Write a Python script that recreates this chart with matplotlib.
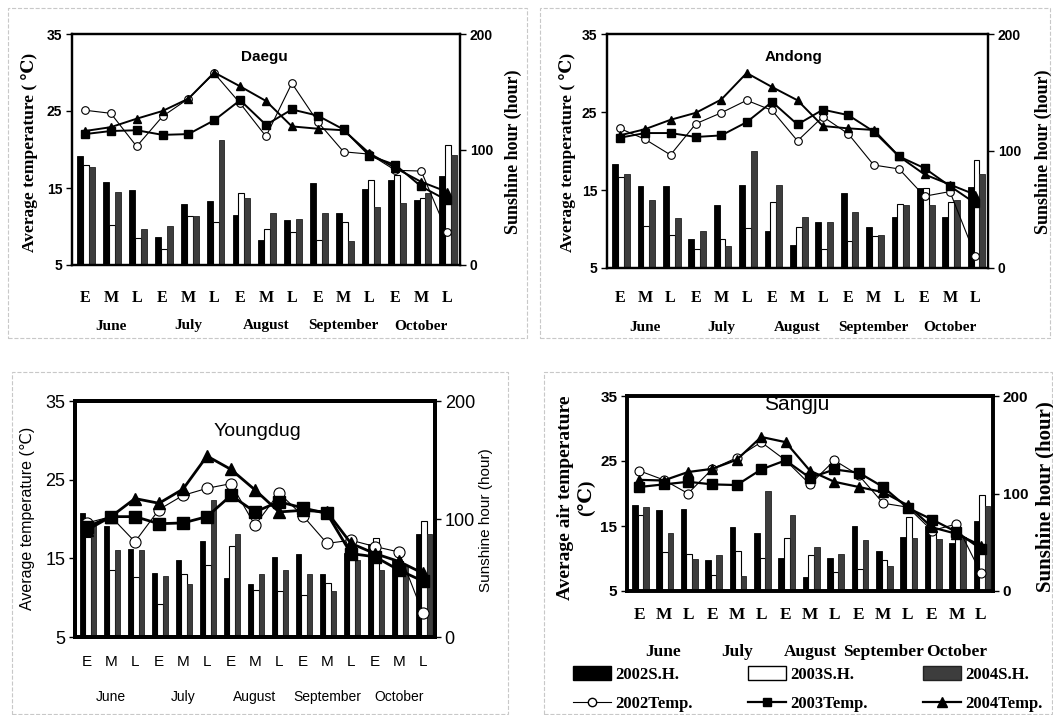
import numpy as np
import matplotlib
matplotlib.use('Agg')
import matplotlib.pyplot as plt
from matplotlib.patches import Patch, Rectangle
from matplotlib.lines import Line2D

W, H = 1053, 715

periods = ['E', 'M', 'L'] * 5
months = ['June', 'July', 'August', 'September', 'October']

# ---- Daegu ----
daegu_t02 = [25.1, 24.7, 20.4, 24.3, 26.6, 29.9, 26.0, 21.7, 28.6, 23.6, 19.7, 19.4, 17.3, 17.2, 9.3]
daegu_t03 = [22.0, 22.4, 22.5, 21.9, 22.0, 23.8, 26.4, 23.2, 25.2, 24.4, 22.6, 19.2, 18.0, 15.2, 13.4]
daegu_t04 = [22.4, 22.9, 24.0, 25.0, 26.6, 30.0, 28.2, 26.3, 23.0, 22.7, 22.5, 19.5, 17.6, 15.8, 14.5]
daegu_s02 = [94, 72, 65, 24, 53, 55, 43, 22, 39, 71, 45, 66, 74, 56, 77]
daegu_s03 = [87, 35, 23, 14, 42, 37, 62, 31, 29, 22, 37, 74, 78, 58, 104]
daegu_s04 = [85, 63, 31, 34, 42, 108, 58, 45, 40, 45, 21, 50, 54, 62, 95]

# ---- Andong ----
andong_t02 = [22.9, 21.5, 19.5, 23.5, 24.9, 26.5, 25.2, 21.3, 24.4, 22.2, 18.2, 17.7, 14.2, 14.8, 6.6]
andong_t03 = [21.7, 22.3, 22.3, 21.8, 22.0, 23.7, 26.3, 23.4, 25.3, 24.6, 22.5, 19.3, 17.8, 15.5, 13.3]
andong_t04 = [22.0, 22.8, 24.0, 24.9, 26.6, 30.0, 28.2, 26.5, 23.2, 22.9, 22.7, 19.3, 17.0, 15.7, 14.4]
andong_s02 = [89, 70, 70, 25, 54, 71, 32, 20, 39, 64, 35, 44, 68, 44, 69]
andong_s03 = [78, 36, 28, 16, 25, 34, 56, 35, 16, 23, 27, 55, 68, 56, 92]
andong_s04 = [80, 58, 43, 32, 19, 100, 71, 44, 39, 48, 28, 54, 54, 58, 80]

# ---- Youngdug ----
young_t02 = [19.5, 20.3, 17.1, 21.2, 23.0, 23.9, 24.5, 19.2, 23.3, 20.4, 16.9, 17.3, 16.5, 15.8, 8.0]
young_t03 = [19.0, 20.3, 20.3, 19.4, 19.5, 20.3, 23.0, 20.9, 22.2, 21.4, 20.7, 15.6, 15.2, 13.5, 12.1]
young_t04 = [18.6, 20.3, 22.6, 22.0, 23.8, 28.0, 26.3, 23.7, 20.9, 21.1, 20.9, 16.9, 15.6, 14.6, 13.1]
young_s02 = [105, 94, 75, 54, 65, 81, 50, 45, 68, 70, 53, 71, 79, 65, 87]
young_s03 = [85, 57, 51, 28, 53, 61, 77, 40, 39, 36, 46, 67, 84, 64, 98]
young_s04 = [96, 74, 74, 52, 45, 116, 87, 53, 57, 53, 39, 65, 57, 60, 87]

# ---- Sangju ----
sang_t02 = [23.5, 22.1, 20.0, 23.8, 25.5, 27.9, 25.1, 21.4, 25.1, 22.8, 18.5, 17.9, 14.3, 15.3, 7.8]
sang_t03 = [21.0, 21.4, 21.8, 21.4, 21.3, 23.7, 25.1, 22.4, 23.7, 23.2, 21.0, 17.8, 16.0, 14.1, 11.5]
sang_t04 = [22.1, 22.0, 23.3, 23.8, 25.2, 28.7, 27.9, 23.5, 21.8, 21.0, 20.2, 18.2, 14.8, 13.8, 12.0]
sang_s02 = [88, 83, 84, 32, 66, 60, 34, 14, 34, 67, 41, 55, 67, 49, 72]
sang_s03 = [78, 40, 38, 16, 41, 34, 54, 37, 20, 23, 32, 76, 62, 55, 98]
sang_s04 = [86, 59, 33, 37, 15, 103, 78, 45, 38, 52, 26, 54, 53, 55, 87]

SERIF = ['Liberation Serif', 'DejaVu Serif']
SANS = ['Liberation Sans', 'DejaVu Sans']
NARROW = ['Liberation Sans Narrow', 'Liberation Sans', 'DejaVu Sans']

fig = plt.figure(figsize=(W / 100, H / 100), dpi=100)


def rect_px(left, top, right, bottom):
    return [left / W, 1 - bottom / H, (right - left) / W, (bottom - top) / H]


def panel(box, title, t02, t03, t04, s02, s03, s04, st):
    ax = fig.add_axes(rect_px(*box))
    ax2 = ax.twinx()
    ax.set_zorder(ax2.get_zorder() + 1)
    ax.patch.set_visible(False)
    x = np.arange(15)
    w = 0.23
    ax2.bar(x - 0.18, s02, w, color='black', edgecolor='black', lw=0.6)
    ax2.bar(x + 0.05, s03, w, color='white', edgecolor='black', lw=0.8)
    ax2.bar(x + 0.28, s04, w, color='#3d3d3d', edgecolor='#222222', lw=0.6)
    ax2.set_ylim(0, 200)
    ax2.set_yticks([0, 100, 200])
    ax.set_ylim(5, 35)
    ax.set_yticks([5, 15, 25, 35])
    ax.set_xlim(-0.5, 14.5)

    ms = st['ms']
    ax.plot(x, t02, '-o', color='black', lw=0.8, mfc='white', mec='black', ms=ms, mew=0.8)
    ax.plot(x, t03, '-s', color='black', lw=st['lw'], ms=ms, mfc='black')
    ax.plot(x, t04, '-^', color='black', lw=st['lw'], ms=ms + 0.5, mfc='black')

    for a in (ax, ax2):
        for s in a.spines.values():
            s.set_linewidth(st['spine'])
    ax.tick_params(axis='x', length=0, labelbottom=False)
    ax.tick_params(axis='y', direction='out', length=4, width=1, pad=3)
    ax2.tick_params(axis='y', direction='out', length=4, width=1, pad=3)
    for lab in ax.get_yticklabels() + ax2.get_yticklabels():
        lab.set_fontfamily(st['tickfont'])
        lab.set_fontsize(st['ticksize'])
        lab.set_fontweight(st['tickweight'])

    for i, p in enumerate(periods):
        ax.annotate(p, (i, 0), xycoords=('data', 'axes fraction'),
                    xytext=(0, -st['eml_off'] * 0.72), textcoords='offset points',
                    ha='center', va='center', family=st['emlfont'],
                    fontsize=st['emlsize'], fontweight=st['emlweight'])
    for j, m in enumerate(months):
        ax.annotate(m, (3 * j + 1, 0), xycoords=('data', 'axes fraction'),
                    xytext=(0, -st['mon_off'] * 0.72), textcoords='offset points',
                    ha='center', va='center', family=st['monfont'],
                    fontsize=st['monsize'], fontweight=st['monweight'])
    ax.text(st['title_xy'][0], st['title_xy'][1], title, transform=ax.transAxes,
            ha='center', va='center', family=st['titlefont'],
            fontsize=st['titlesize'], fontweight=st['titleweight'], zorder=10)
    return ax


top_style = dict(ms=5.5, lw=1.4, spine=1.6,
                 tickfont=SANS, ticksize=10, tickweight='bold',
                 emlfont=SERIF, emlsize=11.5, emlweight='bold', eml_off=33,
                 monfont=SERIF, monsize=11, monweight='bold', mon_off=61,
                 titlefont=SANS, titlesize=11, titleweight='bold',
                 title_xy=(0.497, 0.90))

panel((72, 34, 460, 265), 'Daegu', daegu_t02, daegu_t03, daegu_t04,
      daegu_s02, daegu_s03, daegu_s04, top_style)

andong_style = dict(top_style, eml_off=30, mon_off=60, title_xy=(0.49, 0.90))
panel((607, 34, 988, 268), 'Andong', andong_t02, andong_t03, andong_t04,
      andong_s02, andong_s03, andong_s04, andong_style)

young_style = dict(ms=8, lw=2.0, spine=2.8,
                   tickfont=NARROW, ticksize=13, tickweight='normal',
                   emlfont=SANS, emlsize=11, emlweight='normal', eml_off=25,
                   monfont=NARROW, monsize=10, monweight='normal', mon_off=60,
                   titlefont=NARROW, titlesize=14, titleweight='normal',
                   title_xy=(0.508, 0.87))
panel((75, 401, 435, 637), 'Youngdug', young_t02, young_t03, young_t04,
      young_s02, young_s03, young_s04, young_style)

sang_style = dict(ms=6.5, lw=1.6, spine=2.6,
                  tickfont=SANS, ticksize=11, tickweight='bold',
                  emlfont=SERIF, emlsize=12.5, emlweight='bold', eml_off=24,
                  monfont=SERIF, monsize=12.5, monweight='bold', mon_off=61,
                  titlefont=NARROW, titlesize=15, titleweight='normal',
                  title_xy=(0.464, 0.955))
panel((627, 396, 993, 591), 'Sangju', sang_t02, sang_t03, sang_t04,
      sang_s02, sang_s03, sang_s04, sang_style)


def ftext(px, py, s, **kw):
    fig.text(px / W, 1 - py / H, s, **kw)


# axis titles
ftext(30, 152, 'Average temperature ( \u2103)', rotation=90, ha='center', va='center',
      family=SERIF, fontsize=12.5, fontweight='bold')
ftext(513, 152, 'Sunshine hour (hour)', rotation=90, ha='center', va='center',
      family=SERIF, fontsize=13, fontweight='bold')
ftext(568, 152, 'Average temperature ( \u2103)', rotation=90, ha='center', va='center',
      family=SERIF, fontsize=12.5, fontweight='bold')
ftext(1043, 152, 'Sunshine hour (hour)', rotation=90, ha='center', va='center',
      family=SERIF, fontsize=13, fontweight='bold')
ftext(28, 518, 'Average temperature (\u2103)', rotation=90, ha='center', va='center',
      family=SANS, fontsize=11.5)
ftext(486, 520, 'Sunshine hour (hour)', rotation=90, ha='center', va='center',
      family=SANS, fontsize=11)
ftext(565, 498, 'Average air temperature', rotation=90, ha='center', va='center',
      family=SERIF, fontsize=14, fontweight='bold')
ftext(586, 498, '(\u2103)', rotation=90, ha='center', va='center',
      family=SERIF, fontsize=14, fontweight='bold')
ftext(1045, 497, 'Sunshine hour (hour)', rotation=90, ha='center', va='center',
      family=SERIF, fontsize=15, fontweight='bold')

# legend
handles = [
    Patch(facecolor='black', edgecolor='black'),
    Line2D([], [], color='black', lw=0.8, marker='o', mfc='white', ms=6),
    Patch(facecolor='white', edgecolor='black'),
    Line2D([], [], color='black', lw=1.6, marker='s', ms=6),
    Patch(facecolor='#3d3d3d', edgecolor='#222222'),
    Line2D([], [], color='black', lw=1.6, marker='^', ms=6.5),
]
labels = ['2002S.H.', '2002Temp.', '2003S.H.', '2003Temp.', '2004S.H.', '2004Temp.']
fig.legend(handles, labels, ncol=3, loc='upper left',
           bbox_to_anchor=(573 / W, 1 - 666 / H), frameon=False,
           prop=dict(family=SERIF, size=12, weight='bold'),
           handlelength=2.3, handleheight=0.9, handletextpad=0.25,
           columnspacing=3.3, labelspacing=0.75, borderpad=0, borderaxespad=0)

# faint panel frames
for (l, t, r, b) in [(8, 8, 527, 338), (540, 8, 1050, 338), (12, 372, 508, 714), (544, 372, 1052, 714)]:
    fig.add_artist(Rectangle((l / W, 1 - b / H), (r - l) / W, (b - t) / H,
                             transform=fig.transFigure, fill=False,
                             edgecolor='#c8c8c8', lw=0.8, ls='--'))

fig.savefig('out.png', dpi=100)
